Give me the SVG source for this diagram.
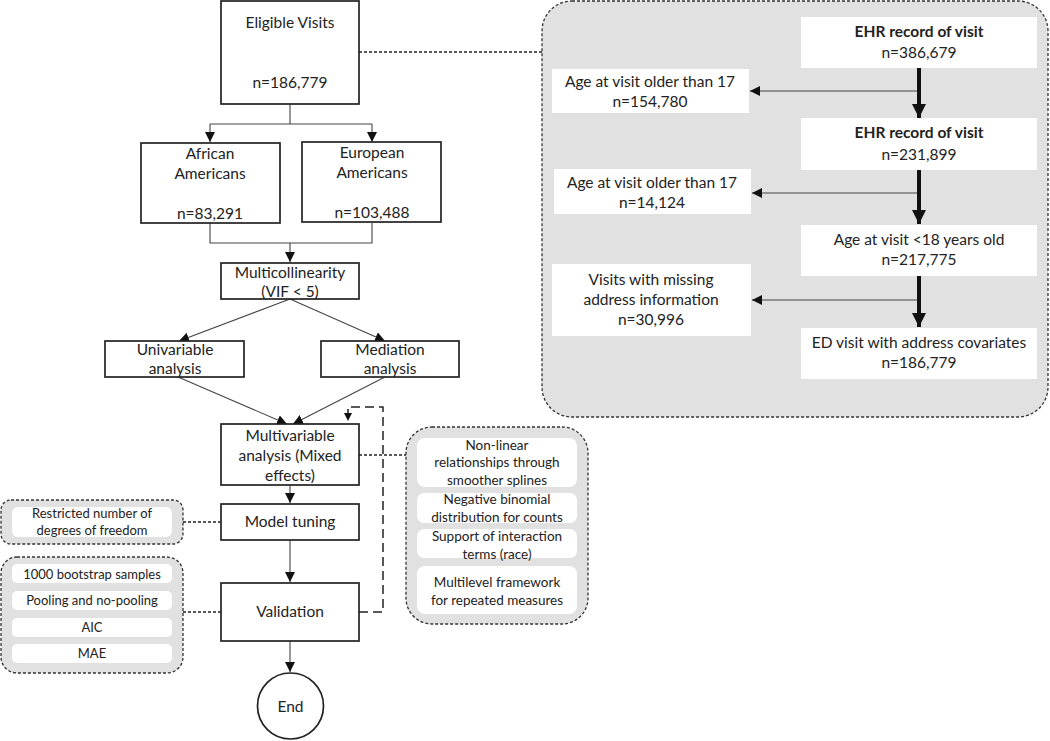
<svg xmlns="http://www.w3.org/2000/svg" width="1050" height="741" viewBox="0 0 1050 741">
<style>
text{font-family:Lato,"Liberation Sans",sans-serif;fill:#222;text-anchor:middle}
.m{font-size:15.5px}
.s{font-size:13.5px}
.t{font-size:13px}
.b{font-weight:bold}
.box{fill:#fff;stroke:#222;stroke-width:1.7}
.panel{fill:#e1e1e1;stroke:#333;stroke-width:1.3;stroke-dasharray:3,2}
.wb{fill:#fff;stroke:none}
.ln{fill:none;stroke:#444;stroke-width:1.1}
.dl{fill:none;stroke:#222;stroke-width:1.3;stroke-dasharray:3,2}
.fb{fill:none;stroke:#222;stroke-width:1.5;stroke-dasharray:9,5}
.th{fill:none;stroke:#111;stroke-width:4}
</style>
<defs>
<marker id="a" viewBox="0 0 10 10" refX="10" refY="5" markerWidth="10" markerHeight="10" markerUnits="userSpaceOnUse" orient="auto"><path d="M0,0L10,5L0,10z" fill="#111"/></marker>
<marker id="at" viewBox="0 0 10 10" refX="10" refY="5" markerWidth="14" markerHeight="14" markerUnits="userSpaceOnUse" orient="auto"><path d="M0,0L10,5L0,10z" fill="#111"/></marker>
</defs>

<g id="ehr-panel">
<rect class="panel" x="542" y="1" width="506" height="416" rx="30"/>
</g>
<g id="left-panel-1">
<rect class="panel" x="1" y="500" width="182" height="44" rx="10"/>
</g>
<g id="left-panel-2">
<rect class="panel" x="1" y="557" width="182" height="116" rx="16"/>
</g>
<g id="right-panel">
<rect class="panel" x="406" y="427" width="182" height="197" rx="26"/>
</g>

<g id="connectors">
<path class="ln" d="M290,104V124M210,124H372M210,124V142" marker-end="url(#a)"/>
<path class="ln" d="M372,124V142" marker-end="url(#a)"/>
<path class="ln" d="M210,223V243H372V223M290,243V262" marker-end="url(#a)"/>
<path class="ln" d="M290,299L179,341" marker-end="url(#a)"/>
<path class="ln" d="M290,299L385,341" marker-end="url(#a)"/>
<path class="ln" d="M178,377L287,424" marker-end="url(#a)"/>
<path class="ln" d="M385,377L293,424" marker-end="url(#a)"/>
<path class="ln" d="M290,485V503" marker-end="url(#a)"/>
<path class="ln" d="M290,540V582" marker-end="url(#a)"/>
<path class="ln" d="M290,641V672" marker-end="url(#a)"/>
<path class="fb" d="M359,612H383V407H348V421"/>
<path d="M344,413L348,421L352,413z" fill="#111"/>
<path class="dl" d="M359,52H542"/>
<path class="dl" d="M359,455H406"/>
<path class="dl" d="M183,522H221"/>
<path class="dl" d="M183,612H221"/>
<path class="ln" d="M919,91H750" marker-end="url(#a)"/>
<path class="ln" d="M919,193H752" marker-end="url(#a)"/>
<path class="ln" d="M919,300H752" marker-end="url(#a)"/>
<path class="th" d="M919,68V118" marker-end="url(#at)"/>
<path class="th" d="M919,170V224" marker-end="url(#at)"/>
<path class="th" d="M919,276V327" marker-end="url(#at)"/>
</g>

<g id="eligible">
<rect class="box" x="221" y="1" width="138" height="103"/>
<text class="m" x="290" y="28">Eligible Visits</text>
<text class="m" x="290" y="88">n=186,779</text>
</g>
<g id="african">
<rect class="box" x="141" y="143" width="139" height="80"/>
<text class="m" x="210" y="159">African</text>
<text class="m" x="210" y="179">Americans</text>
<text class="m" x="210" y="219">n=83,291</text>
</g>
<g id="european">
<rect class="box" x="302" y="142" width="139" height="80"/>
<text class="m" x="372" y="158">European</text>
<text class="m" x="372" y="178">Americans</text>
<text class="m" x="372" y="218">n=103,488</text>
</g>
<g id="multicollinearity">
<rect class="box" x="221" y="263" width="138" height="36"/>
<text class="m" x="290" y="278">Multicollinearity</text>
<text class="m" x="290" y="297">(VIF &lt; 5)</text>
</g>
<g id="univariable">
<rect class="box" x="105" y="341" width="139" height="36"/>
<text class="m" x="175" y="355">Univariable</text>
<text class="m" x="175" y="374">analysis</text>
</g>
<g id="mediation">
<rect class="box" x="321" y="341" width="138" height="36"/>
<text class="m" x="390" y="355">Mediation</text>
<text class="m" x="390" y="374">analysis</text>
</g>
<g id="multivariable">
<rect class="box" x="221" y="424" width="138" height="61"/>
<text class="m" x="290" y="441">Multivariable</text>
<text class="m" x="290" y="461">analysis (Mixed</text>
<text class="m" x="290" y="481">effects)</text>
</g>
<g id="model-tuning">
<rect class="box" x="221" y="504" width="138" height="36"/>
<text class="m" x="290" y="527">Model tuning</text>
</g>
<g id="validation">
<rect class="box" x="221" y="583" width="138" height="58"/>
<text class="m" x="290" y="617">Validation</text>
</g>
<g id="end">
<circle class="box" cx="290.5" cy="706" r="33"/>
<text class="m" x="290.5" y="712">End</text>
</g>

<g id="restricted">
<rect class="wb" x="12" y="507" width="160" height="30" rx="6"/>
<text class="t" x="92" y="518">Restricted number of</text>
<text class="t" x="92" y="535">degrees of freedom</text>
</g>
<g id="bootstrap">
<rect class="wb" x="12" y="564" width="160" height="19" rx="5"/>
<text class="t" x="92" y="579">1000 bootstrap samples</text>
</g>
<g id="pooling">
<rect class="wb" x="12" y="591" width="160" height="19" rx="5"/>
<text class="t" x="92" y="605">Pooling and no-pooling</text>
</g>
<g id="aic">
<rect class="wb" x="12" y="618" width="160" height="19" rx="5"/>
<text class="t" x="92" y="632">AIC</text>
</g>
<g id="mae">
<rect class="wb" x="12" y="644" width="160" height="19" rx="5"/>
<text class="t" x="92" y="658">MAE</text>
</g>

<g id="nonlinear">
<rect class="wb" x="417" y="438" width="160" height="49" rx="8"/>
<text class="s" x="497" y="450">Non-linear</text>
<text class="s" x="497" y="467">relationships through</text>
<text class="s" x="497" y="485">smoother splines</text>
</g>
<g id="negbin">
<rect class="wb" x="417" y="493" width="160" height="30" rx="7"/>
<text class="s" x="497" y="504">Negative binomial</text>
<text class="s" x="497" y="522">distribution for counts</text>
</g>
<g id="interaction">
<rect class="wb" x="417" y="529" width="160" height="29" rx="7"/>
<text class="s" x="497" y="541">Support of interaction</text>
<text class="s" x="497" y="559">terms (race)</text>
</g>
<g id="multilevel">
<rect class="wb" x="417" y="566" width="160" height="48" rx="8"/>
<text class="s" x="497" y="587">Multilevel framework</text>
<text class="s" x="497" y="605">for repeated measures</text>
</g>

<g id="ehr1">
<rect class="wb" x="801" y="17" width="236" height="51"/>
<text class="m b" x="919" y="37">EHR record of visit</text>
<text class="m" x="919" y="58">n=386,679</text>
</g>
<g id="excl1">
<rect class="wb" x="552" y="69" width="197" height="44"/>
<text class="m" x="650" y="87">Age at visit older than 17</text>
<text class="m" x="650" y="107">n=154,780</text>
</g>
<g id="ehr2">
<rect class="wb" x="801" y="118" width="236" height="52"/>
<text class="m b" x="919" y="138">EHR record of visit</text>
<text class="m" x="919" y="160">n=231,899</text>
</g>
<g id="excl2">
<rect class="wb" x="554" y="169" width="197" height="45"/>
<text class="m" x="652" y="188">Age at visit older than 17</text>
<text class="m" x="652" y="208">n=14,124</text>
</g>
<g id="age18">
<rect class="wb" x="801" y="225" width="236" height="51"/>
<text class="m" x="919" y="245">Age at visit &lt;18 years old</text>
<text class="m" x="919" y="265">n=217,775</text>
</g>
<g id="excl3">
<rect class="wb" x="552" y="264" width="199" height="72"/>
<text class="m" x="651" y="285">Visits with missing</text>
<text class="m" x="651" y="305">address information</text>
<text class="m" x="651" y="325">n=30,996</text>
</g>
<g id="ed">
<rect class="wb" x="801" y="328" width="236" height="51"/>
<text class="m" x="919" y="348">ED visit with address covariates</text>
<text class="m" x="919" y="368">n=186,779</text>
</g>
</svg>
